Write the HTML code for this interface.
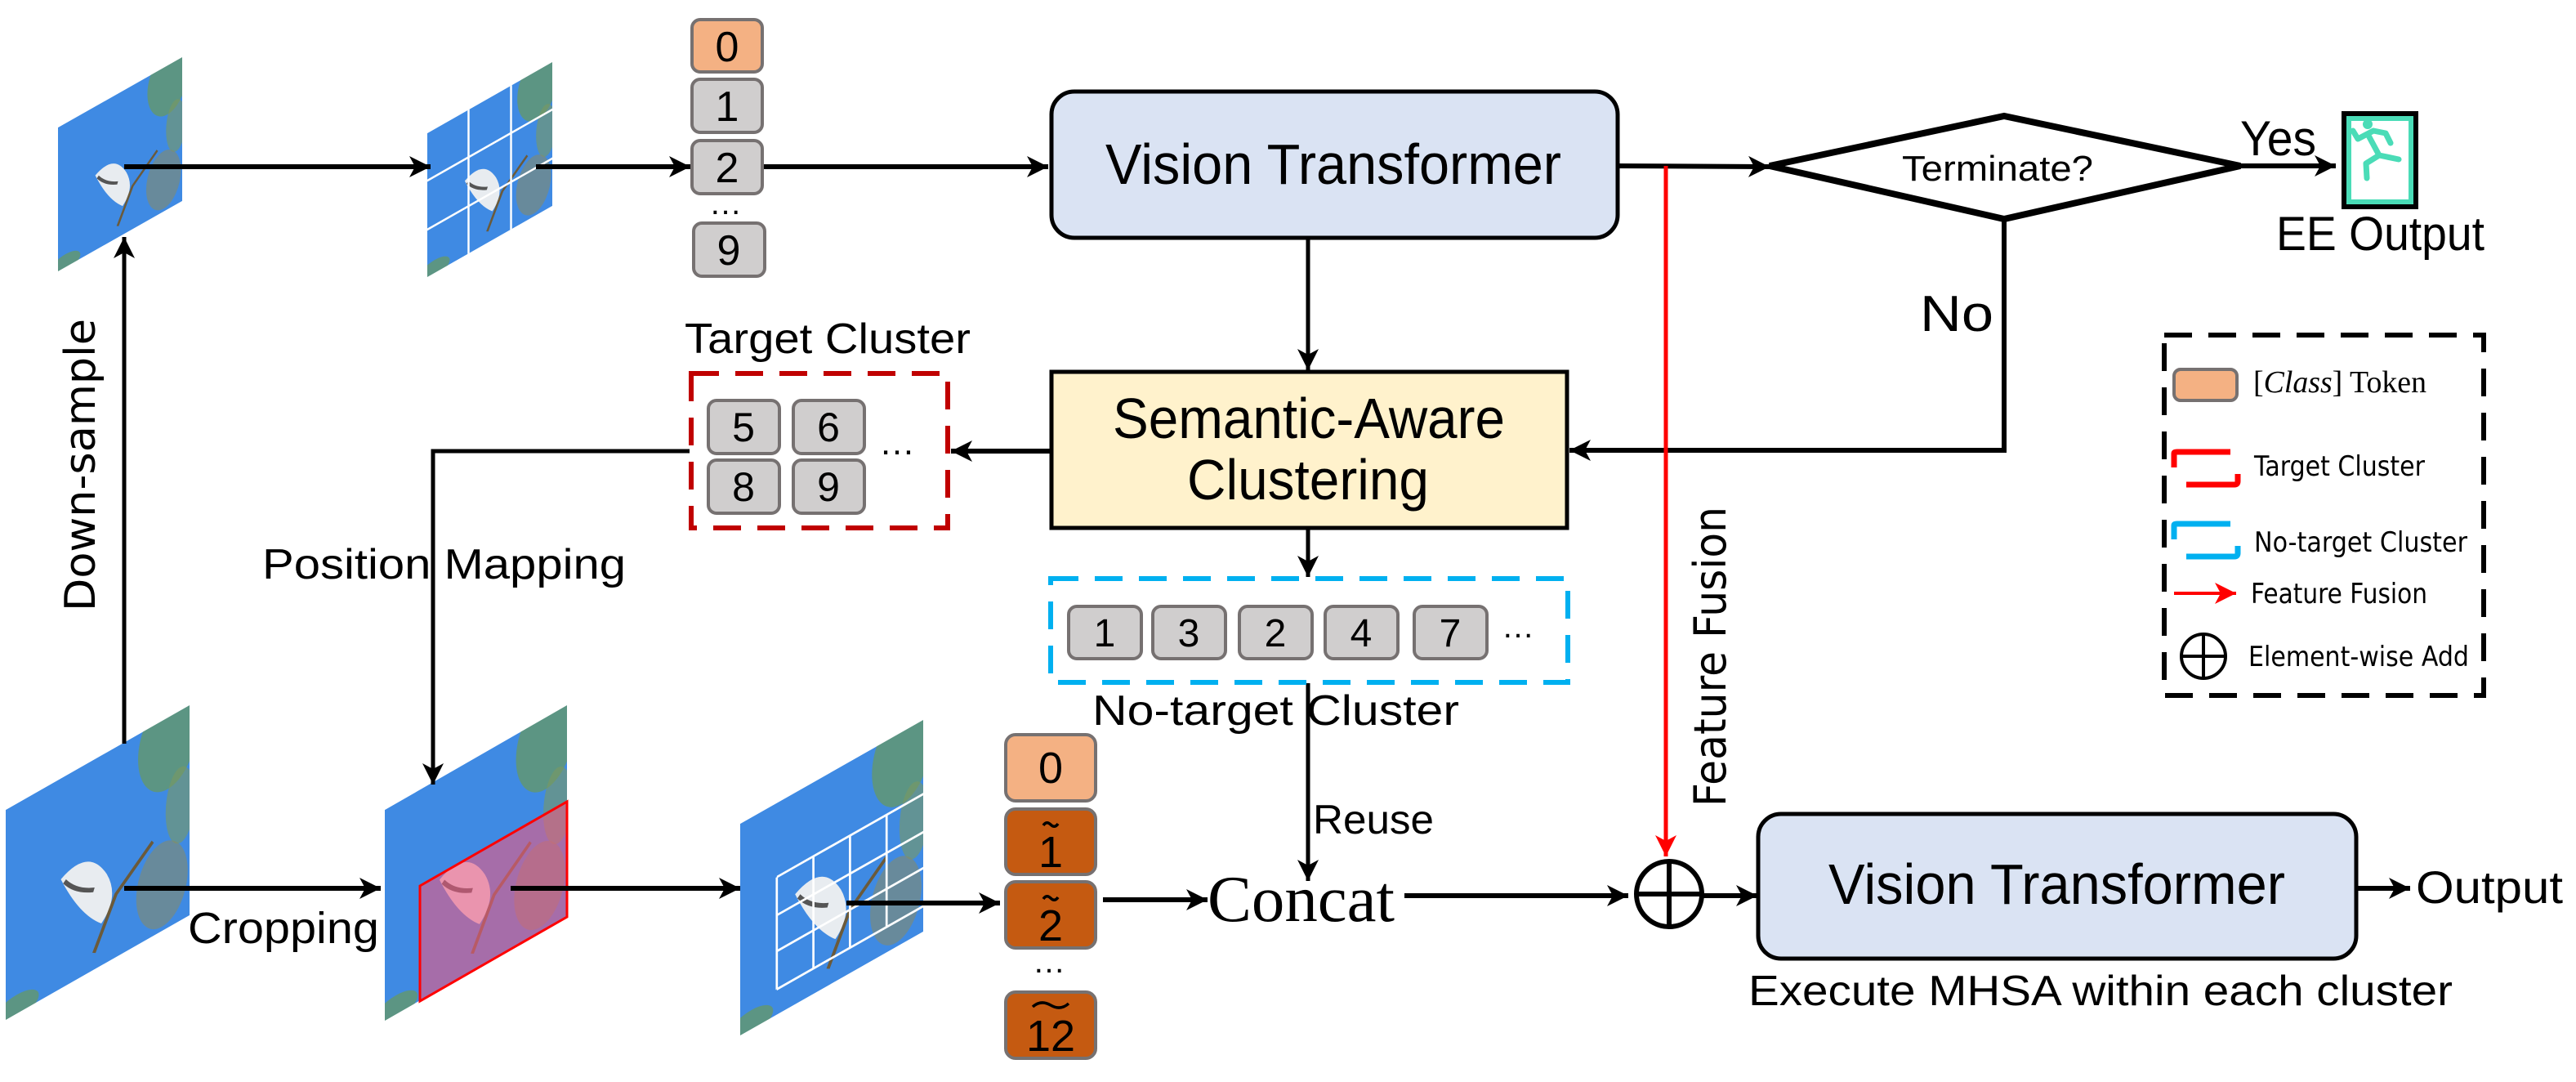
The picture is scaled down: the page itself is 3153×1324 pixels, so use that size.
<!DOCTYPE html>
<html><head><meta charset="utf-8"><style>
html,body{margin:0;padding:0;background:#fff;}
svg{display:block;}
text{font-family:"Liberation Sans",sans-serif;fill:#000;}
.dj{font-family:"DejaVu Sans","Liberation Sans",sans-serif;}
.sf{font-family:"Liberation Serif",serif;}
</style></head><body>
<svg width="3153" height="1324" viewBox="0 0 3153 1324" xmlns="http://www.w3.org/2000/svg">
<defs>
<marker id="ah" markerUnits="userSpaceOnUse" markerWidth="30" markerHeight="30" refX="26" refY="13" orient="auto">
<path d="M0,0 L26,13 L0,26 L7,13 z" fill="#000"/></marker>
<marker id="ahr" markerUnits="userSpaceOnUse" markerWidth="30" markerHeight="30" refX="26" refY="13" orient="auto">
<path d="M0,0 L26,13 L0,26 L7,13 z" fill="#f00"/></marker>
<clipPath id="uc" clipPathUnits="userSpaceOnUse"><rect x="0" y="0" width="100" height="100"/></clipPath>
<g id="img">
<g clip-path="url(#uc)">
<rect x="0" y="0" width="100" height="100" fill="#3f8ae3"/>
<ellipse cx="88" cy="12" rx="16" ry="22" fill="#6a9a5a" opacity="0.7"/>
<ellipse cx="95" cy="45" rx="8" ry="18" fill="#7a9a60" opacity="0.6"/>
<ellipse cx="85" cy="78" rx="14" ry="20" fill="#8a8a60" opacity="0.55"/>
<ellipse cx="6" cy="97" rx="12" ry="6" fill="#6a9a5a" opacity="0.7"/>
<path d="M30,48 Q45,40 55,58 Q62,72 52,80 Q40,70 30,48 z" fill="#e8ecf0"/>
<path d="M32,50 Q38,58 48,62" stroke="#555" stroke-width="2" fill="none"/>
<path d="M48,92 L60,70 L80,55" stroke="#6b5a3a" stroke-width="2" fill="none"/>
</g>
</g>
</defs>

<g transform="matrix(1.52,-0.86,0,1.76,71,156)"><use href="#img"/></g>
<g transform="matrix(1.53,-0.87,0,1.76,523,163)"><use href="#img"/>
<g stroke="#fff" stroke-width="1.6" vector-effect="non-scaling-stroke"><line x1="33" y1="0" x2="33" y2="100"/><line x1="67" y1="0" x2="67" y2="100"/><line x1="0" y1="33" x2="100" y2="33"/><line x1="0" y1="67" x2="100" y2="67"/></g></g>

<g transform="matrix(2.25,-1.28,0,2.57,7,991)"><use href="#img"/></g>
<g transform="matrix(2.23,-1.28,0,2.58,471,991)"><use href="#img"/></g>
<polygon points="514,1084 694,981 694,1122 514,1225" fill="rgba(235,90,130,0.6)" stroke="#f00" stroke-width="3"/>
<g transform="matrix(2.24,-1.27,0,2.59,906,1008)"><use href="#img"/>
<g stroke="#fff" stroke-width="1.2"><line x1="20" y1="35" x2="20" y2="88"/><line x1="40" y1="35" x2="40" y2="88"/><line x1="60" y1="35" x2="60" y2="88"/><line x1="80" y1="35" x2="80" y2="88"/><line x1="20" y1="35" x2="100" y2="35"/><line x1="20" y1="53" x2="100" y2="53"/><line x1="20" y1="70" x2="100" y2="70"/><line x1="20" y1="88" x2="100" y2="88"/></g></g>

<g stroke="#000" stroke-width="6" fill="none">
<line x1="152" y1="204" x2="527" y2="204" marker-end="url(#ah)"/>
<line x1="656" y1="204" x2="845" y2="204" marker-end="url(#ah)"/>
<line x1="933" y1="204" x2="1283" y2="204" marker-end="url(#ah)"/>
<line x1="152" y1="910" x2="152" y2="290" marker-end="url(#ah)" stroke-width="5"/>
<line x1="1979" y1="203" x2="2166" y2="204" marker-end="url(#ah)"/>
<line x1="2742" y1="203" x2="2859" y2="203" marker-end="url(#ah)"/>
<polyline points="2453,268 2453,551 1921,551" marker-end="url(#ah)"/>
<line x1="1601" y1="291" x2="1601" y2="453" marker-end="url(#ah)" stroke-width="5"/>
<line x1="1601" y1="647" x2="1601" y2="706" marker-end="url(#ah)" stroke-width="5"/>
<line x1="1286" y1="552" x2="1164" y2="552" marker-end="url(#ah)"/>
<polyline points="844,552 530,552 530,960" marker-end="url(#ah)" stroke-width="5"/>
<line x1="1601" y1="836" x2="1601" y2="1078" marker-end="url(#ah)" stroke-width="5"/>
<line x1="152" y1="1087" x2="466" y2="1087" marker-end="url(#ah)"/>
<line x1="625" y1="1087" x2="906" y2="1087" marker-end="url(#ah)"/>
<line x1="1036" y1="1105" x2="1224" y2="1105" marker-end="url(#ah)"/>
<line x1="1350" y1="1101" x2="1478" y2="1101" marker-end="url(#ah)"/>
<line x1="1719" y1="1096" x2="1993" y2="1096" marker-end="url(#ah)"/>
<line x1="2085" y1="1096" x2="2151" y2="1096" marker-end="url(#ah)"/>
<line x1="2884" y1="1087" x2="2950" y2="1087" marker-end="url(#ah)"/>
</g>
<line x1="2039" y1="203" x2="2039" y2="1048" stroke="#f00" stroke-width="5" marker-end="url(#ahr)"/>

<polygon points="2166,203 2453,142 2742,203 2453,268" fill="#fff" stroke="#000" stroke-width="8"/>
<text x="2328" y="221" font-size="44" textLength="234" lengthAdjust="spacingAndGlyphs">Terminate?</text>
<text x="2742" y="190" font-size="60" textLength="93" lengthAdjust="spacingAndGlyphs">Yes</text>
<text x="2350" y="405" font-size="62" textLength="90" lengthAdjust="spacingAndGlyphs">No</text>

<rect x="2866" y="136" width="94" height="120" fill="#000"/>
<rect x="2872" y="142" width="82" height="108" fill="#4adcb7"/>
<rect x="2878" y="148" width="70" height="96" fill="#fff"/>
<g stroke="#4adcb7" stroke-width="7" stroke-linecap="round" stroke-linejoin="round" fill="none">
<path d="M2880,160 L2886,170 L2905,160 M2898,164 L2912,190 L2936,195 M2912,190 L2896,200 L2897,218 M2905,160 L2920,163 L2926,175"/>
</g>
<circle cx="2898" cy="152" r="6" fill="#4adcb7"/>
<text x="2786" y="306" font-size="58" textLength="255" lengthAdjust="spacingAndGlyphs">EE Output</text>

<rect x="1287" y="112" width="693" height="179" rx="28" fill="#dae3f3" stroke="#000" stroke-width="5"/>
<text x="1353" y="225" font-size="70" textLength="558" lengthAdjust="spacingAndGlyphs">Vision Transformer</text>

<rect x="1287" y="455" width="631" height="191" fill="#fff2cc" stroke="#000" stroke-width="5"/>
<text x="1362" y="536" font-size="70" textLength="480" lengthAdjust="spacingAndGlyphs">Semantic-Aware</text>
<text x="1453" y="611" font-size="70" textLength="296" lengthAdjust="spacingAndGlyphs">Clustering</text>

<g stroke="#767171" stroke-width="4">
<rect x="847" y="24" width="86" height="64" rx="10" fill="#f4b183"/>
<rect x="847" y="97" width="86" height="65" rx="10" fill="#d0cece"/>
<rect x="847" y="172" width="86" height="65" rx="10" fill="#d0cece"/>
<rect x="849" y="273" width="87" height="65" rx="10" fill="#d0cece"/>
</g>
<g font-size="52" text-anchor="middle">
<text x="890" y="75">0</text><text x="890" y="148">1</text><text x="890" y="223">2</text><text x="892" y="324">9</text>
<text x="888" y="262" font-size="40">…</text>
</g>

<text x="838" y="432" font-size="52" textLength="350" lengthAdjust="spacingAndGlyphs">Target Cluster</text>
<rect x="846" y="457" width="314" height="189" fill="none" stroke="#c00000" stroke-width="6" stroke-dasharray="34,20"/>
<g stroke="#767171" stroke-width="4" fill="#d0cece">
<rect x="867" y="490" width="87" height="65" rx="10"/><rect x="971" y="490" width="87" height="65" rx="10"/>
<rect x="867" y="563" width="87" height="65" rx="10"/><rect x="971" y="563" width="87" height="65" rx="10"/>
</g>
<g font-size="50" text-anchor="middle">
<text x="910" y="540">5</text><text x="1014" y="540">6</text><text x="910" y="613">8</text><text x="1014" y="613">9</text>
</g>
<text x="1098" y="556" font-size="44" text-anchor="middle">…</text>
<text x="321" y="708" font-size="52" textLength="445" lengthAdjust="spacingAndGlyphs">Position Mapping</text>

<rect x="1286" y="708" width="633" height="127" fill="none" stroke="#00b0f0" stroke-width="6" stroke-dasharray="34,20"/>
<g stroke="#767171" stroke-width="4" fill="#d0cece">
<rect x="1308" y="742" width="89" height="64" rx="10"/><rect x="1411" y="742" width="89" height="64" rx="10"/>
<rect x="1517" y="742" width="89" height="64" rx="10"/><rect x="1622" y="742" width="89" height="64" rx="10"/>
<rect x="1731" y="742" width="89" height="64" rx="10"/>
</g>
<g font-size="48" text-anchor="middle">
<text x="1352" y="791">1</text><text x="1455" y="791">3</text><text x="1561" y="791">2</text><text x="1666" y="791">4</text><text x="1775" y="791">7</text>
</g>
<text x="1858" y="780" font-size="40" text-anchor="middle">…</text>
<text x="1337" y="887" font-size="52" textLength="449" lengthAdjust="spacingAndGlyphs">No-target Cluster</text>

<text x="1607" y="1020" font-size="50" textLength="148" lengthAdjust="spacingAndGlyphs">Reuse</text>
<text class="sf" x="1478" y="1127" font-size="80" textLength="229" lengthAdjust="spacingAndGlyphs">Concat</text>
<text x="230" y="1154" font-size="54" textLength="234" lengthAdjust="spacingAndGlyphs">Cropping</text>

<g stroke="#767171" stroke-width="4">
<rect x="1231" y="899" width="110" height="81" rx="12" fill="#f4b183"/>
<rect x="1231" y="990" width="110" height="80" rx="12" fill="#c55a11"/>
<rect x="1231" y="1079" width="110" height="81" rx="12" fill="#c55a11"/>
<rect x="1231" y="1214" width="110" height="81" rx="12" fill="#c55a11"/>
</g>
<g class="sf" font-size="54" text-anchor="middle">
<text x="1286" y="958">0</text>
<text x="1286" y="1061">1</text>
<text x="1286" y="1151">2</text>
<text x="1286" y="1286">12</text>
</g>
<g stroke="#000" stroke-width="3.5" fill="none">
<path d="M1277,1010 q4,-6 9,-1 t9,-1"/>
<path d="M1277,1100 q4,-6 9,-1 t9,-1"/>
<path d="M1264,1232 q10,-9 22,-2 t22,-2"/>
</g>
<text x="1284" y="1190" font-size="40" text-anchor="middle">…</text>

<circle cx="2043" cy="1094" r="40" fill="#fff" stroke="#000" stroke-width="6"/>
<line x1="2003" y1="1094" x2="2083" y2="1094" stroke="#000" stroke-width="6"/>
<line x1="2043" y1="1054" x2="2043" y2="1134" stroke="#000" stroke-width="6"/>

<text class="dj" transform="translate(2112,987) rotate(-90)" font-size="54" textLength="367" lengthAdjust="spacingAndGlyphs">Feature Fusion</text>
<text class="dj" transform="translate(116,748) rotate(-90)" font-size="52" textLength="358" lengthAdjust="spacingAndGlyphs">Down-sample</text>

<rect x="2152" y="996" width="732" height="177" rx="28" fill="#dae3f3" stroke="#000" stroke-width="5"/>
<text x="2238" y="1106" font-size="70" textLength="559" lengthAdjust="spacingAndGlyphs">Vision Transformer</text>
<text x="2957" y="1105" font-size="56" textLength="180" lengthAdjust="spacingAndGlyphs">Output</text>
<text x="2140" y="1230" font-size="52" textLength="862" lengthAdjust="spacingAndGlyphs">Execute MHSA within each cluster</text>

<rect x="2649" y="410" width="391" height="441" fill="none" stroke="#000" stroke-width="6" stroke-dasharray="34,20"/>
<rect x="2661" y="452" width="77" height="38" rx="8" fill="#f4b183" stroke="#767171" stroke-width="4"/>
<text class="sf" x="2758" y="480" font-size="38" textLength="212" lengthAdjust="spacingAndGlyphs">[<tspan font-style="italic">Class</tspan>] Token</text>
<path d="M2661,572 V555 Q2661,553 2665,553 H2730" stroke="#f00" stroke-width="7" fill="none"/>
<path d="M2676,593 H2735 Q2739,593 2739,589 V580" stroke="#f00" stroke-width="7" fill="none"/>
<text class="dj" x="2759" y="582" font-size="34" textLength="209" lengthAdjust="spacingAndGlyphs">Target Cluster</text>
<path d="M2661,660 V643 Q2661,641 2665,641 H2730" stroke="#00b0f0" stroke-width="7" fill="none"/>
<path d="M2676,681 H2735 Q2739,681 2739,677 V668" stroke="#00b0f0" stroke-width="7" fill="none"/>
<text class="dj" x="2759" y="675" font-size="34" textLength="261" lengthAdjust="spacingAndGlyphs">No-target Cluster</text>
<line x1="2661" y1="726" x2="2737" y2="726" stroke="#f00" stroke-width="4" marker-end="url(#ahr)"/>
<text class="dj" x="2755" y="738" font-size="34" textLength="216" lengthAdjust="spacingAndGlyphs">Feature Fusion</text>
<circle cx="2697" cy="803" r="27" fill="none" stroke="#000" stroke-width="4"/>
<line x1="2670" y1="803" x2="2724" y2="803" stroke="#000" stroke-width="4"/>
<line x1="2697" y1="776" x2="2697" y2="830" stroke="#000" stroke-width="4"/>
<text class="dj" x="2752" y="815" font-size="34" textLength="270" lengthAdjust="spacingAndGlyphs">Element-wise Add</text>
</svg>
</body></html>
